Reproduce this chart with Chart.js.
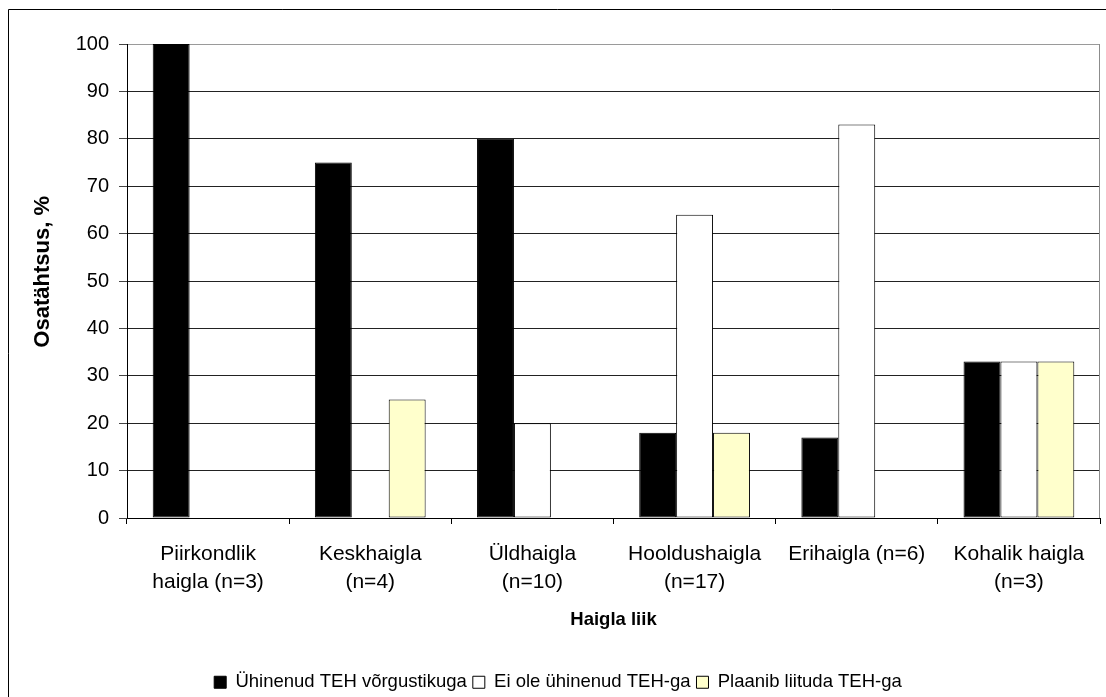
<!DOCTYPE html>
<html>
<head>
<meta charset="utf-8">
<script src="https://cdn.jsdelivr.net/npm/chart.js@4"></script>
<style>
  html, body { margin: 0; padding: 0; background: #fff; }
  #wrap { width: 1106px; height: 697px; }
</style>
</head>
<body>
<div id="wrap"><canvas id="c" width="1106" height="697"></canvas></div>
<script>
// Hospital types (two-line tick labels)
const categories = [
  ['Piirkondlik', 'haigla (n=3)'],
  ['Keskhaigla', '(n=4)'],
  ['Üldhaigla', '(n=10)'],
  ['Hooldushaigla', '(n=17)'],
  ['Erihaigla (n=6)'],
  ['Kohalik haigla', '(n=3)']
];

// Share of hospitals, %
const joined    = [100, 75, 80, 18, 17, 33];
const notJoined = [0, 0, 20, 64, 83, 33];
const planning  = [0, 25, 0, 18, 0, 33];

const seriesLabels = ['Ühinenud TEH võrgustikuga', 'Ei ole ühinenud TEH-ga', 'Plaanib liituda TEH-ga'];
const yTicks = [0, 10, 20, 30, 40, 50, 60, 70, 80, 90, 100];

const FONT = '"Liberation Sans", Arial, sans-serif';

// Outer frame and the grey plot-area border on the right
const framePlugin = {
  id: 'frame',
  beforeDraw(chart) {
    const ctx = chart.ctx;
    ctx.save();
    ctx.fillStyle = '#fff';
    ctx.fillRect(0, 0, chart.width, chart.height);
    ctx.strokeStyle = '#000';
    ctx.lineWidth = 1;
    ctx.beginPath();
    ctx.moveTo(8.5, chart.height);
    ctx.lineTo(8.5, 9.5);
    ctx.lineTo(chart.width, 9.5);
    ctx.stroke();
    ctx.restore();
  },
  afterDatasetsDraw(chart) {
    const a = chart.chartArea;
    const ctx = chart.ctx;
    ctx.save();
    ctx.strokeStyle = '#8c8c8c';
    ctx.lineWidth = 1;
    ctx.beginPath();
    ctx.moveTo(Math.round(a.right) - 0.5, a.bottom);
    ctx.lineTo(Math.round(a.right) - 0.5, a.top);
    ctx.stroke();
    ctx.restore();
  }
};

new Chart(document.getElementById('c'), {
  type: 'bar',
  data: {
    labels: categories,
    datasets: [
      { label: seriesLabels[0], data: joined, backgroundColor: '#000000', borderColor: '#000', borderWidth: 1 },
      { label: seriesLabels[1], data: notJoined, backgroundColor: '#ffffff', borderColor: '#000', borderWidth: 1 },
      { label: seriesLabels[2], data: planning, backgroundColor: '#ffffcc', borderColor: '#000', borderWidth: 1 }
    ]
  },
  options: {
    responsive: false,
    animation: false,
    devicePixelRatio: 1,
    layout: { padding: { left: 16, right: 6, top: 44, bottom: 0 } },
    datasets: { bar: { categoryPercentage: 0.683, barPercentage: 1.0, borderSkipped: false } },
    plugins: {
      tooltip: { enabled: false },
      legend: {
        position: 'bottom',
        maxHeight: 30,
        labels: {
          font: { family: FONT, size: 18.5 },
          color: '#000',
          boxWidth: 12,
          boxHeight: 12,
          padding: 6
        }
      }
    },
    scales: {
      x: {
        offset: true,
        grid: { display: true, drawOnChartArea: false, offset: true, tickLength: 6, color: '#000' },
        border: { display: true, color: '#000', width: 1 },
        ticks: {
          font: { family: FONT, size: 21, lineHeight: 1.3 },
          color: '#000',
          padding: 17,
          maxRotation: 0,
          autoSkip: false
        },
        title: {
          display: true,
          text: 'Haigla liik',
          color: '#000',
          font: { family: FONT, size: 18.5, weight: 'bold' },
          padding: { top: 0, bottom: 36 }
        },
        afterFit(scale) { scale.height = 149; }
      },
      y: {
        min: 0,
        max: 100,
        afterBuildTicks(scale) { scale.ticks = yTicks.map(v => ({ value: v })); },
        grid: {
          color: ctx => (ctx.tick && ctx.tick.value === 100 ? '#9a9a9a' : '#222'),
          tickColor: '#444',
          tickLength: 8
        },
        border: { display: true, color: '#000', width: 1 },
        ticks: {
          font: { family: FONT, size: 20 },
          color: '#000',
          padding: 10
        },
        title: {
          display: true,
          text: '   Osatähtsus, %',
          color: '#000',
          font: { family: FONT, size: 22, weight: 'bold' },
          padding: { top: 14, bottom: 0 }
        },
        afterFit(scale) { scale.width = 111; }
      }
    }
  },
  plugins: [framePlugin]
});
</script>
</body>
</html>
